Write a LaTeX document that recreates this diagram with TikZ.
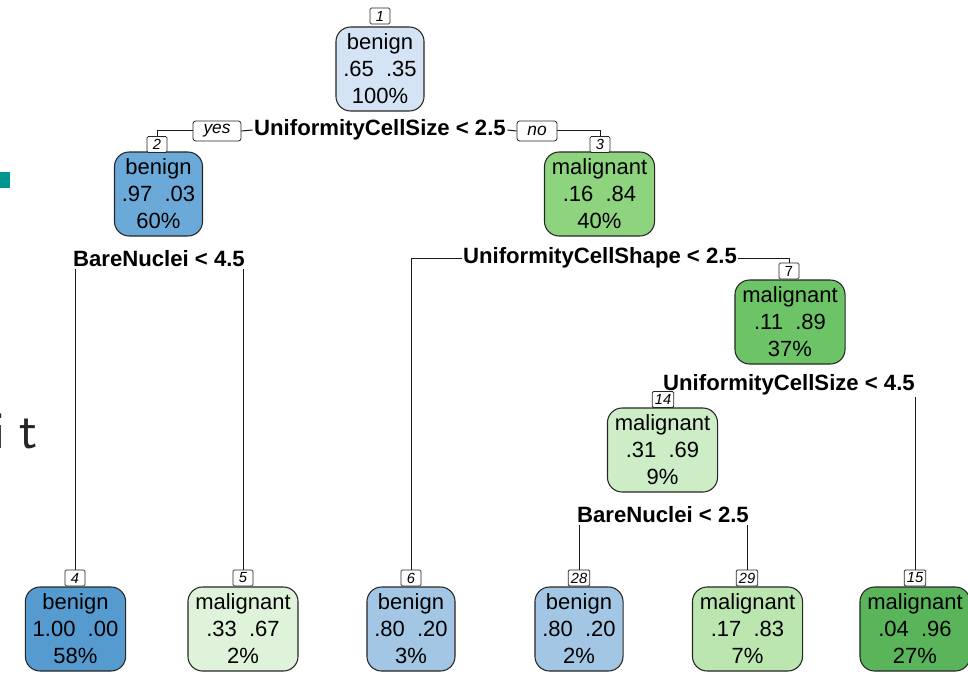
\documentclass[tikz,border=0pt]{standalone}
\usepackage{fontspec}
\setmainfont{Liberation Sans}
\definecolor{cB1}{HTML}{D5E4F5}
\definecolor{cB2}{HTML}{6BAAD8}
\definecolor{cB4}{HTML}{559BD0}
\definecolor{cB6}{HTML}{A2C6E4}
\definecolor{cG3}{HTML}{8ED47F}
\definecolor{cG7}{HTML}{6CC466}
\definecolor{cG14}{HTML}{CDEDC6}
\definecolor{cG5}{HTML}{DFF3DA}
\definecolor{cG29}{HTML}{BBE6B0}
\definecolor{cG15}{HTML}{5AB55A}
\definecolor{tealsq}{HTML}{00968F}
\begin{document}
\begin{tikzpicture}[x=0.75pt,y=-0.75pt,
  treenode/.style={draw=black!85, rounded corners=11pt, line width=0.8pt, align=center,
    font=\fontsize{16.5}{20.25}\selectfont, inner xsep=5.5pt, minimum height=63pt},
  num/.style={draw=black!85, fill=white, font=\fontsize{11}{12}\selectfont\itshape,
    inner xsep=2pt, inner ysep=0pt, minimum width=15pt, minimum height=12pt, rounded corners=1pt, line width=0.6pt},
  split/.style={font=\bfseries\fontsize{16.6}{18}\selectfont, inner sep=1pt},
  yn/.style={draw=black!85, fill=white, rounded corners=2pt, font=\itshape\fontsize{13}{14}\selectfont,
    minimum height=15pt, inner ysep=0pt, line width=0.6pt},
  conn/.style={draw=black!90, line width=0.75pt},
  frag/.style={font=\sffamily\fontsize{40}{42}\selectfont, text=black!85, inner sep=0pt, anchor=base}
]
\useasboundingbox (0,0) rectangle (968,674);

% slide fragments
\fill[tealsq] (0,172) rectangle (10,188);
\node[frag] (fragi) at (-1,448) {i};
\node[frag] (fragt) at (29,448) {t};

% tree nodes
\node[treenode, fill=cB1] (n1) at (380,69) {benign\\.65\ \ .35\\100\%};
\node[num] (l1) at (380,16) {1};

\node[split] (s1) at (380,130) {UniformityCellSize < 2.5};
\node[yn, minimum width=36pt] (yes) at (217,131) {yes};
\node[yn, minimum width=30pt] (no) at (537,131) {no};

\node[treenode, fill=cB2] (n2) at (158.5,194) {benign\\.97\ \ .03\\60\%};
\node[num] (l2) at (157,144.5) {2};
\node[treenode, fill=cG3] (n3) at (599.5,194) {malignant\\.16\ \ .84\\40\%};
\node[num] (l3) at (600,144.5) {3};

\node[split] (s2) at (159,259) {BareNuclei < 4.5};
\node[split] (s3) at (600,258) {UniformityCellShape < 2.5};

\node[treenode, fill=cG7] (n7) at (790,322) {malignant\\.11\ \ .89\\37\%};
\node[num, font=\fontsize{11}{12}\selectfont] (l7) at (789,271) {7};

\node[split] (s7) at (789,385) {UniformityCellSize < 4.5};
\node[treenode, fill=cG14] (n14) at (662.5,450) {malignant\\.31\ \ .69\\9\%};
\node[num] (l14) at (663,399.5) {14};

\node[split] (s14) at (663,515) {BareNuclei < 2.5};

% leaves
\node[treenode, fill=cB4] (n4) at (75.5,629) {benign\\1.00\ \ .00\\58\%};
\node[num] (l4) at (75,578) {4};
\node[treenode, fill=cG5] (n5) at (243,629) {malignant\\.33\ \ .67\\2\%};
\node[num] (l5) at (243,578) {5};
\node[treenode, fill=cB6] (n6) at (411,629) {benign\\.80\ \ .20\\3\%};
\node[num] (l6) at (411,578) {6};
\node[treenode, fill=cB6] (n28) at (579,629) {benign\\.80\ \ .20\\2\%};
\node[num] (l28) at (579,578) {28};
\node[treenode, fill=cG29] (n29) at (747.5,629) {malignant\\.17\ \ .83\\7\%};
\node[num] (l29) at (747,578) {29};
\node[treenode, fill=cG15] (n15) at (915,629) {malignant\\.04\ \ .96\\27\%};
\node[num] (l15) at (915,578) {15};

% connectors
\draw[conn] (yes.west) -| (l2.north);
\draw[conn] (yes.east) -- (s1.west);
\draw[conn] (s1.east) -- (no.west);
\draw[conn] (no.east) -| (l3.north);

\draw[conn] (l4.north) -- (l4.north |- s2.south);
\draw[conn] (l5.north) -- (l5.north |- s2.south);

\draw[conn] (s3.west) -| (l6.north);
\draw[conn] (s3.east) -| (l7.north);

\draw[conn] (l15.north) -- (l15.north |- s7.south);

\draw[conn] (l28.north) -- (l28.north |- s14.south);
\draw[conn] (l29.north) -- (l29.north |- s14.south);
\end{tikzpicture}
\end{document}
